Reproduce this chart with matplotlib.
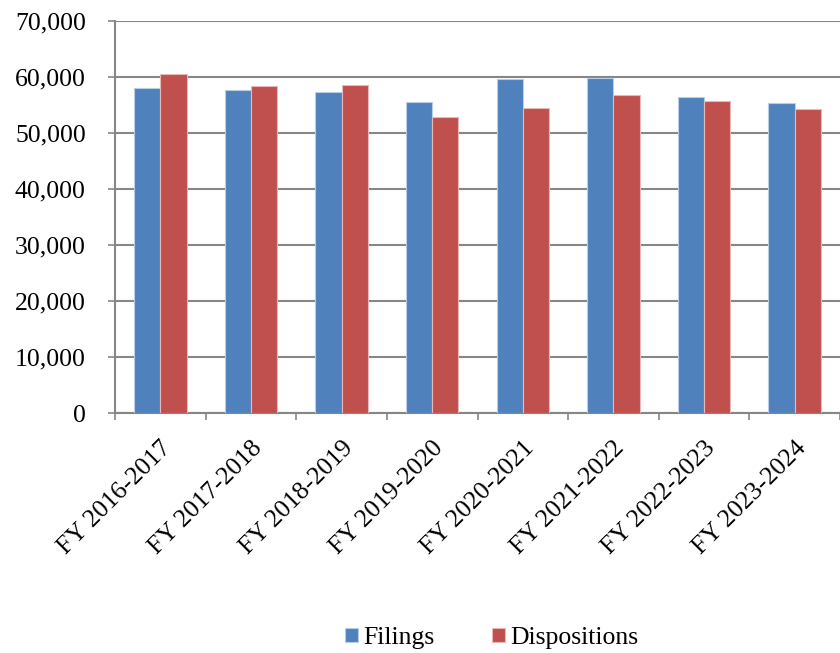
import numpy as np
import matplotlib
matplotlib.use('Agg')
import matplotlib.pyplot as plt

# data
years = ['FY 2016-2017', 'FY 2017-2018', 'FY 2018-2019', 'FY 2019-2020',
         'FY 2020-2021', 'FY 2021-2022', 'FY 2022-2023', 'FY 2023-2024']
filings = [58000, 57700, 57400, 55500, 59600, 59900, 56500, 55300]
dispositions = [60500, 58400, 58500, 52900, 54500, 56800, 55700, 54200]

plt.rcParams['font.family'] = ['Liberation Serif', 'DejaVu Serif']

fig = plt.figure(figsize=(8.4, 6.53), dpi=100)
ax = fig.add_axes([115/840, (653-413)/653, 725/840, 392/653])

x = np.arange(len(years))
w = 0.29
ax.bar(x - w/2, filings, w, color='#4F81BD', edgecolor='#B9CDE5', linewidth=0.8, label='Filings', zorder=3)
ax.bar(x + w/2, dispositions, w, color='#C0504D', edgecolor='#E6B9B8', linewidth=0.8, label='Dispositions', zorder=3)

ax.set_xlim(-0.5, len(years) - 0.5)
ax.set_ylim(0, 70000)
ax.set_yticks(range(0, 70001, 10000))
ax.set_yticklabels([f'{v:,}' for v in range(0, 70001, 10000)], fontsize=18.5)
ax.yaxis.grid(True, color='#868686', linewidth=1.5, zorder=0)
ax.tick_params(axis='y', length=5, width=1.2, color='#868686', pad=16)

ax.set_xticks(x)
ax.set_xticklabels(years, rotation=45, ha='right', rotation_mode='anchor', fontsize=18.5)
ax.tick_params(axis='x', which='major', length=0, pad=17)
ax.set_xticks(np.arange(-0.5, len(years)), minor=True)
ax.tick_params(axis='x', which='minor', length=5, width=1.2, color='#868686')

for s in ['top', 'right']:
    ax.spines[s].set_visible(False)
for s in ['left', 'bottom']:
    ax.spines[s].set_color('#868686')
    ax.spines[s].set_linewidth(1.5)

fig.legend(loc='center', bbox_to_anchor=(0.585, 0.023), ncol=2, frameon=False,
           fontsize=18.5, handlelength=0.5, handleheight=0.5, handletextpad=0.2,
           columnspacing=2.25)

plt.savefig('out.png', dpi=100)
